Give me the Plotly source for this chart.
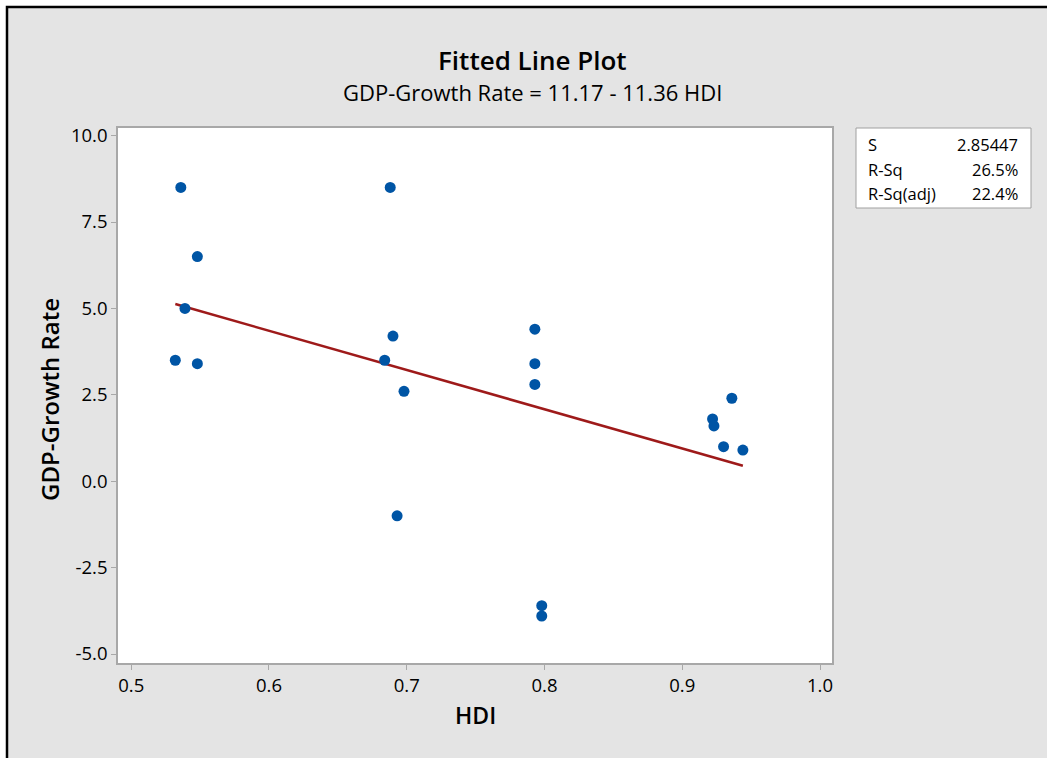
import plotly.graph_objects as go

# ---- data ----
hdi = [0.536, 0.548, 0.539, 0.532, 0.548,
       0.688, 0.690, 0.684, 0.698, 0.693,
       0.793, 0.793, 0.793, 0.798, 0.798,
       0.922, 0.923, 0.936, 0.930, 0.944]
gdp = [8.5, 6.5, 5.0, 3.5, 3.4,
       8.5, 4.2, 3.5, 2.6, -1.0,
       4.4, 3.4, 2.8, -3.6, -3.9,
       1.8, 1.6, 2.4, 1.0, 0.9]
intercept = 11.17
slope = -11.36
x_ticks = [0.5, 0.6, 0.7, 0.8, 0.9, 1.0]
x_tick_labels = ["0.5", "0.6", "0.7", "0.8", "0.9", "1.0"]
y_ticks = [-5.0, -2.5, 0.0, 2.5, 5.0, 7.5, 10.0]
y_tick_labels = ["-5.0", "-2.5", "0.0", "2.5", "5.0", "7.5", "10.0"]
stat_names = ["S", "R-Sq", "R-Sq(adj)"]
stat_values = ["2.85447", "26.5%", "22.4%"]
title = "Fitted Line Plot"
subtitle = "GDP-Growth Rate = 11.17 - 11.36 HDI"

# ---- layout geometry (pixels) ----
W, H = 1047, 758
L, R, T, B = 118, 832, 128, 663
PW, PH = R - L, B - T


def px(x):
    return (x - L) / PW


def py(y):
    return (B - y) / PH


FONT = "Open Sans"

fig = go.Figure()

xmin, xmax = min(hdi), max(hdi)
fig.add_trace(go.Scatter(
    x=[xmin, xmax], y=[intercept + slope * xmin, intercept + slope * xmax],
    mode="lines", line=dict(color="#9e1a1a", width=2.5), showlegend=False,
    hoverinfo="skip"))
fig.add_trace(go.Scatter(
    x=hdi, y=gdp, mode="markers",
    marker=dict(color="#0055a5", size=11, line=dict(width=0)),
    showlegend=False))

shapes = [
    # grey frame with black border
    dict(type="rect", xref="paper", yref="paper",
         x0=px(7), x1=px(1070), y0=py(7), y1=py(790),
         fillcolor="#e4e4e4", line=dict(color="black", width=2.5), layer="below"),
    # white plot area
    dict(type="rect", xref="paper", yref="paper",
         x0=0, x1=1, y0=0, y1=1,
         fillcolor="white", line=dict(width=0), layer="below"),
    # stats box
    dict(type="rect", xref="paper", yref="paper",
         x0=px(856), x1=px(1031), y0=py(208), y1=py(128),
         fillcolor="white", line=dict(color="#a0a0a0", width=1), layer="below"),
]

annotations = [
    dict(text=title, x=px(532), y=py(60), xref="paper", yref="paper",
         xanchor="center", yanchor="middle", showarrow=False,
         font=dict(family=FONT, size=26, color="black", weight=600)),
    dict(text=subtitle, x=px(532), y=py(92), xref="paper", yref="paper",
         xanchor="center", yanchor="middle", showarrow=False,
         font=dict(family=FONT, size=22, color="black")),
    dict(text="GDP-Growth Rate", x=px(49), y=py(400), xref="paper", yref="paper",
         xanchor="center", yanchor="middle", textangle=-90, showarrow=False,
         font=dict(family=FONT, size=24, color="black", weight=600)),
    dict(text="HDI", x=px(475), y=py(715), xref="paper", yref="paper",
         xanchor="center", yanchor="middle", showarrow=False,
         font=dict(family=FONT, size=23, color="black", weight=600)),
]
row_y = [144, 169, 193]
for name, val, yy in zip(stat_names, stat_values, row_y):
    annotations.append(dict(text=name, x=px(866), y=py(yy), xref="paper", yref="paper",
                            xanchor="left", yanchor="middle", showarrow=False,
                            font=dict(family=FONT, size=16.5, color="black")))
    annotations.append(dict(text=val, x=px(1020), y=py(yy), xref="paper", yref="paper",
                            xanchor="right", yanchor="middle", showarrow=False,
                            font=dict(family=FONT, size=16.5, color="black")))

axis_common = dict(showgrid=False, zeroline=False, showline=True, mirror=True,
                   linecolor="#a8a8a8", linewidth=1.5, ticks="outside", ticklen=5,
                   tickcolor="#a8a8a8", tickwidth=1,
                   tickfont=dict(family=FONT, size=18.5, color="black"))

fig.update_layout(
    width=W, height=H,
    margin=dict(l=L, r=W - R, t=T, b=H - B, autoexpand=False),
    paper_bgcolor="white", plot_bgcolor="rgba(0,0,0,0)",
    xaxis=dict(range=[0.4904, 1.0087], tickvals=x_ticks, ticktext=x_tick_labels,
               **axis_common),
    yaxis=dict(range=[-5.26, 10.22], tickvals=y_ticks, ticktext=y_tick_labels,
               **axis_common),
    shapes=shapes, annotations=annotations, showlegend=False,
)

fig.write_html("out.html")
